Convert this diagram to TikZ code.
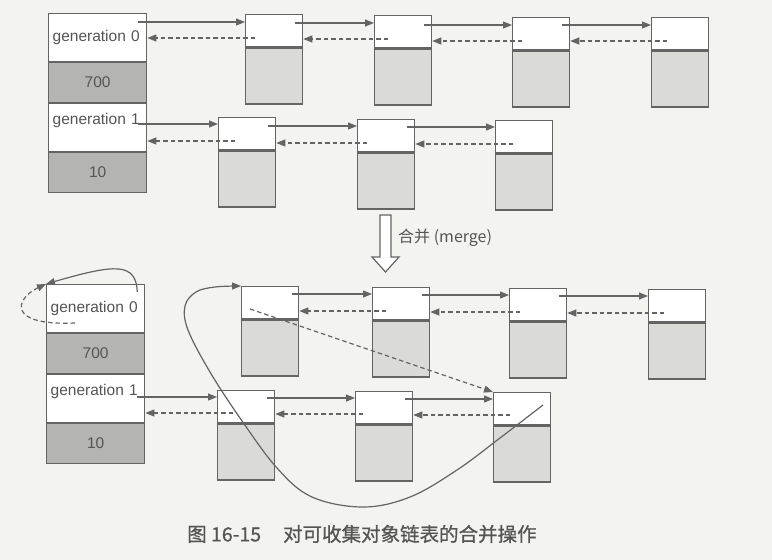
\documentclass[tikz,border=0pt]{standalone}
\usepackage{fontspec}
\setmainfont{Liberation Sans}
\newfontfamily\cjk{Noto Sans CJK SC}
\newfontfamily\cjkb{Noto Sans CJK SC}[FakeBold=0.8]
\usetikzlibrary{arrows.meta, positioning, calc}
\definecolor{paper}{RGB}{243,243,241}
\definecolor{lnc}{RGB}{100,100,100}
\definecolor{txtc}{RGB}{85,85,85}
\definecolor{lfill}{RGB}{218,218,216}
\definecolor{dfill}{RGB}{180,180,178}

\begin{document}
\begin{tikzpicture}[x=1pt, y=-1pt,
  ltop/.style = {draw=lnc, fill=white, line width=1.3pt, minimum width=57, minimum height=32, inner sep=0, anchor=north west},
  lbot/.style = {draw=lnc, fill=lfill, line width=1.3pt, minimum width=57, minimum height=56, inner sep=0},
  hgen/.style = {draw=lnc, fill=white, line width=1.3pt, text width=90, inner xsep=4, inner ysep=0, minimum height=47.5,
    align=left, text=txtc, font=\fontsize{15.5}{18}\selectfont},
  hgenb/.style = {hgen, text depth=17pt},
  hval/.style = {draw=lnc, fill=dfill, line width=1.3pt, minimum width=98, minimum height=40, inner sep=0,
    text=txtc, font=\fontsize{15.5}{18}\selectfont},
  nxt/.style = {draw=lnc, line width=1.2pt, -{Triangle[length=9pt, width=7pt]}},
  prv/.style = {nxt, dash pattern=on 4.5pt off 3pt},
  mlabel/.style = {text=txtc, inner sep=0, font=\cjk\fontsize{16}{18}\selectfont},
  caption/.style = {text=txtc, inner sep=0, font=\cjkb\fontsize{19.5}{22}\selectfont},
  ]
  \path[use as bounding box, fill=paper] (0,0) rectangle (772,560);

  % before the merge
  \node[hgen, anchor=north west] (h0) at (48,13) {generation 0};
  \node[hval, below=0 of h0] (v0) {700};
  \node[hgenb, below=0 of v0] (h1) {generation 1};
  \node[hval, below=0 of h1] (v1) {10};

  \node[ltop] (n01) at (245,14) {};
  \node[lbot, below=0 of n01] (n01b) {};
  \node[ltop] (n02) at (374,15) {};
  \node[lbot, below=0 of n02] (n02b) {};
  \node[ltop] (n03) at (512,17) {};
  \node[lbot, below=0 of n03] (n03b) {};
  \node[ltop] (n04) at (651,17) {};
  \node[lbot, below=0 of n04] (n04b) {};

  \node[ltop] (n11) at (218,117) {};
  \node[lbot, below=0 of n11] (n11b) {};
  \node[ltop] (n12) at (357,119) {};
  \node[lbot, below=0 of n12] (n12b) {};
  \node[ltop] (n13) at (495,120) {};
  \node[lbot, below=0 of n13] (n13b) {};

  \draw[nxt] ($(h0.east |- n01.north)+(-9,8)$) -- ($(n01.north west)+(0,8)$);
  \draw[prv] ($(n01.north west)+(10,24)$) -- ($(h0.east |- n01.north)+(0,24)$);
  \draw[nxt] ($(n01.east |- n02.north)+(-8,8)$) -- ($(n02.north west)+(0,8)$);
  \draw[prv] ($(n02.north west)+(14,24)$) -- ($(n01.east |- n02.north)+(0,24)$);
  \draw[nxt] ($(n02.east |- n03.north)+(-8,8)$) -- ($(n03.north west)+(0,8)$);
  \draw[prv] ($(n03.north west)+(10,24)$) -- ($(n02.east |- n03.north)+(0,24)$);
  \draw[nxt] ($(n03.east |- n04.north)+(-8,8)$) -- ($(n04.north west)+(0,8)$);
  \draw[prv] ($(n04.north west)+(16,24)$) -- ($(n03.east |- n04.north)+(0,24)$);

  \draw[nxt] ($(h1.east |- n11.north)+(-9,7)$) -- ($(n11.north west)+(0,7)$);
  \draw[prv] ($(n11.north west)+(17,24)$) -- ($(h1.east |- n11.north)+(0,24)$);
  \draw[nxt] ($(n11.east |- n12.north)+(-8,7)$) -- ($(n12.north west)+(0,7)$);
  \draw[prv] ($(n12.north west)+(10,24)$) -- ($(n11.east |- n12.north)+(0,24)$);
  \draw[nxt] ($(n12.east |- n13.north)+(-8,7)$) -- ($(n13.north west)+(0,7)$);
  \draw[prv] ($(n13.north west)+(18,24)$) -- ($(n12.east |- n13.north)+(0,24)$);

  % merge arrow
  \draw[draw=lnc, line width=1.2pt, fill=white] (380,215) -- (391,215) -- (391,257) -- (399,257)
    -- (385.5,272) -- (372,257) -- (380,257) -- cycle;
  \node[mlabel, anchor=west] (mergelbl) at (398,238) {合并 (merge)};

  % after the merge
  \node[hgen, anchor=north west] (g0) at (46,284) {generation 0};
  \node[hval, below=0 of g0] (w0) {700};
  \node[hgenb, below=0 of w0] (g1) {generation 1};
  \node[hval, below=0 of g1] (w1) {10};

  \node[ltop] (m01) at (241,286) {};
  \node[lbot, below=0 of m01] (m01b) {};
  \node[ltop] (m02) at (372,287) {};
  \node[lbot, below=0 of m02] (m02b) {};
  \node[ltop] (m03) at (509,288) {};
  \node[lbot, below=0 of m03] (m03b) {};
  \node[ltop] (m04) at (648,289) {};
  \node[lbot, below=0 of m04] (m04b) {};

  \node[ltop] (m11) at (217,390) {};
  \node[lbot, below=0 of m11] (m11b) {};
  \node[ltop] (m12) at (355,391) {};
  \node[lbot, below=0 of m12] (m12b) {};
  \node[ltop] (m13) at (493,392) {};
  \node[lbot, below=0 of m13] (m13b) {};

  \draw[nxt] ($(g0.north east)+(-8,8)$) .. controls (136,262) and (115,264) .. (g0.north west);
  \draw[prv] ($(g0.north west)+(29,39)$) .. controls (5,326) and (16,298) .. (g0.north west);

  \draw[nxt] ($(m01.east |- m02.north)+(-7,7)$) -- ($(m02.north west)+(0,7)$);
  \draw[prv] ($(m02.north west)+(14,24)$) -- ($(m01.east |- m02.north)+(0,24)$);
  \draw[nxt] ($(m02.east |- m03.north)+(-8,7)$) -- ($(m03.north west)+(0,7)$);
  \draw[prv] ($(m03.north west)+(11,24)$) -- ($(m02.east |- m03.north)+(0,24)$);
  \draw[nxt] ($(m03.east |- m04.north)+(-8,7)$) -- ($(m04.north west)+(0,7)$);
  \draw[prv] ($(m04.north west)+(16,24)$) -- ($(m03.east |- m04.north)+(0,24)$);

  \draw[nxt] ($(g1.east |- m11.north)+(-8,7)$) -- ($(m11.north west)+(0,7)$);
  \draw[prv] ($(m11.north west)+(16,23)$) -- ($(g1.east |- m11.north)+(0,23)$);
  \draw[nxt] ($(m11.east |- m12.north)+(-8,7)$) -- ($(m12.north west)+(0,7)$);
  \draw[prv] ($(m12.north west)+(8,23)$) -- ($(m11.east |- m12.north)+(0,23)$);
  \draw[nxt] ($(m12.east |- m13.north)+(-8,7)$) -- ($(m13.north west)+(0,7)$);
  \draw[prv] ($(m13.north west)+(17,23)$) -- ($(m12.east |- m13.north)+(0,23)$);

  % last of generation 1 now leads into generation 0
  \coordinate (tail) at ($(m13.north west)+(50,13)$);
  \draw[nxt] plot[smooth, tension=0.6] coordinates {(tail) (500,438) (457,470) (410,497) (363,507)
    (312,497) (277,468) (240,418) (210,372) (188,330) (185,306) (196,292) (215,287) (m01.north west)};
  \draw[prv] ($(m01.north west)+(9,23)$) -- (m13.north west);

  \node[caption, anchor=west] (cap) at (187,534) {图 16-15\hspace{22pt}对可收集对象链表的合并操作};
\end{tikzpicture}
\end{document}
